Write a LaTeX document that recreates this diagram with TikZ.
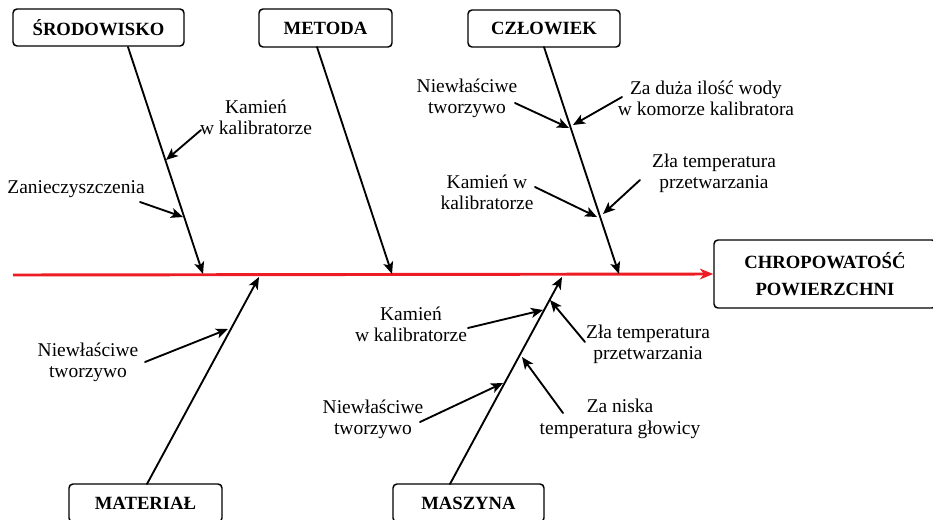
\documentclass[tikz,border=0pt]{standalone}
\usepackage{fontspec}
\setmainfont{Liberation Serif}
\usetikzlibrary{arrows.meta}
\definecolor{spinered}{RGB}{237,28,36}
\begin{document}
\begin{tikzpicture}[x=0.75pt,y=-0.75pt,
  catbox/.style={draw,line width=1.1pt,rounded corners=3pt,inner sep=0pt,
    font=\fontsize{14}{20}\selectfont\bfseries,align=center},
  cause/.style={font=\fontsize{14.6}{16}\selectfont,align=center,inner sep=0pt},
  tip/.style={-{Stealth[length=9pt,width=7.5pt,inset=2.2pt]}},
  bone/.style={tip,line width=1.4pt,line cap=round},
  twig/.style={tip,line width=1.4pt,line cap=round},
  mainline/.style={-{Stealth[length=10pt,width=8pt,inset=3pt]},line width=2.2pt,draw=spinered}]
\useasboundingbox (0,0) rectangle (933,519);

% category boxes
\node[catbox,minimum width=128.25pt,minimum height=27.75pt] (srod) at (98.5,27.5) {ŚRODOWISKO};
\node[catbox,minimum width=99.75pt,minimum height=28.5pt] (metoda) at (325.5,28) {METODA};
\node[catbox,minimum width=114pt,minimum height=27.75pt] (czlowiek) at (544,28.5) {CZŁOWIEK};
\node[catbox,minimum width=114.75pt,minimum height=28.5pt] (material) at (145.5,503) {MATERIAŁ};
\node[catbox,minimum width=113.25pt,minimum height=28.5pt] (maszyna) at (468.5,503) {MASZYNA};
\node[catbox,minimum width=166.5pt,minimum height=51pt] (effect) at (825,274) {CHROPOWATOŚĆ\\POWIERZCHNI};

% main spine
\coordinate (head) at (13,275);
\draw[mainline] (head) -- (effect.west);

% category bones
\coordinate (b1s) at (128,47);  \coordinate (b1e) at (203,274);
\coordinate (b2s) at (317,47);  \coordinate (b2e) at (392,274);
\coordinate (b3s) at (544,47);  \coordinate (b3e) at (619,274);
\coordinate (b4s) at (147,484); \coordinate (b4e) at (259,277);
\coordinate (b5s) at (450,484); \coordinate (b5e) at (562,277);
\draw[bone] (b1s) -- (b1e);
\draw[bone] (b2s) -- (b2e);
\draw[bone] (b3s) -- (b3e);
\draw[bone] (b4s) -- (b4e);
\draw[bone] (b5s) -- (b5e);

% causes: ŚRODOWISKO
\node[cause] (c1) at (256,117) {Kamień\\w kalibratorze};
\node[cause] (c2) at (76,189) {Zanieczyszczenia};
\coordinate (c1a) at (201,130); \coordinate (c1b) at (166,160);
\coordinate (c2a) at (140,202); \coordinate (c2b) at (183,217);
\draw[twig] (c1a) -- (c1b);
\draw[twig] (c2a) -- (c2b);

% causes: CZŁOWIEK
\node[cause] (c3) at (467,98) {Niewłaściwe\\tworzywo};
\node[cause] (c4) at (706,98) {Za duża ilość wody\\w komorze kalibratora};
\node[cause] (c5) at (487,192) {Kamień w\\kalibratorze};
\node[cause] (c6) at (714,173) {Zła temperatura\\przetwarzania};
\coordinate (c3a) at (515,103); \coordinate (c3b) at (569,128);
\coordinate (c4a) at (622,97);  \coordinate (c4b) at (573,125);
\coordinate (c5a) at (535,187); \coordinate (c5b) at (597,217);
\coordinate (c6a) at (640,180); \coordinate (c6b) at (603,214);
\draw[twig] (c3a) -- (c3b);
\draw[twig] (c4a) -- (c4b);
\draw[twig] (c5a) -- (c5b);
\draw[twig] (c6a) -- (c6b);

% causes: MATERIAŁ
\node[cause] (c7) at (88,362) {Niewłaściwe\\tworzywo};
\coordinate (c7a) at (145,362); \coordinate (c7b) at (228,329);
\draw[twig] (c7a) -- (c7b);

% causes: MASZYNA
\node[cause] (c8) at (411,324) {Kamień\\w kalibratorze};
\node[cause] (c9) at (648,344) {Zła temperatura\\przetwarzania};
\node[cause] (c10) at (373,419) {Niewłaściwe\\tworzywo};
\node[cause] (c11) at (620,419) {Za niska\\temperatura głowicy};
\coordinate (c8a) at (468,328);  \coordinate (c8b) at (543,310);
\coordinate (c9a) at (585,342);  \coordinate (c9b) at (550,300);
\coordinate (c10a) at (420,422); \coordinate (c10b) at (503,383);
\coordinate (c11a) at (563,413); \coordinate (c11b) at (522,357);
\draw[twig] (c8a) -- (c8b);
\draw[twig] (c9a) -- (c9b);
\draw[twig] (c10a) -- (c10b);
\draw[twig] (c11a) -- (c11b);
\end{tikzpicture}
\end{document}
